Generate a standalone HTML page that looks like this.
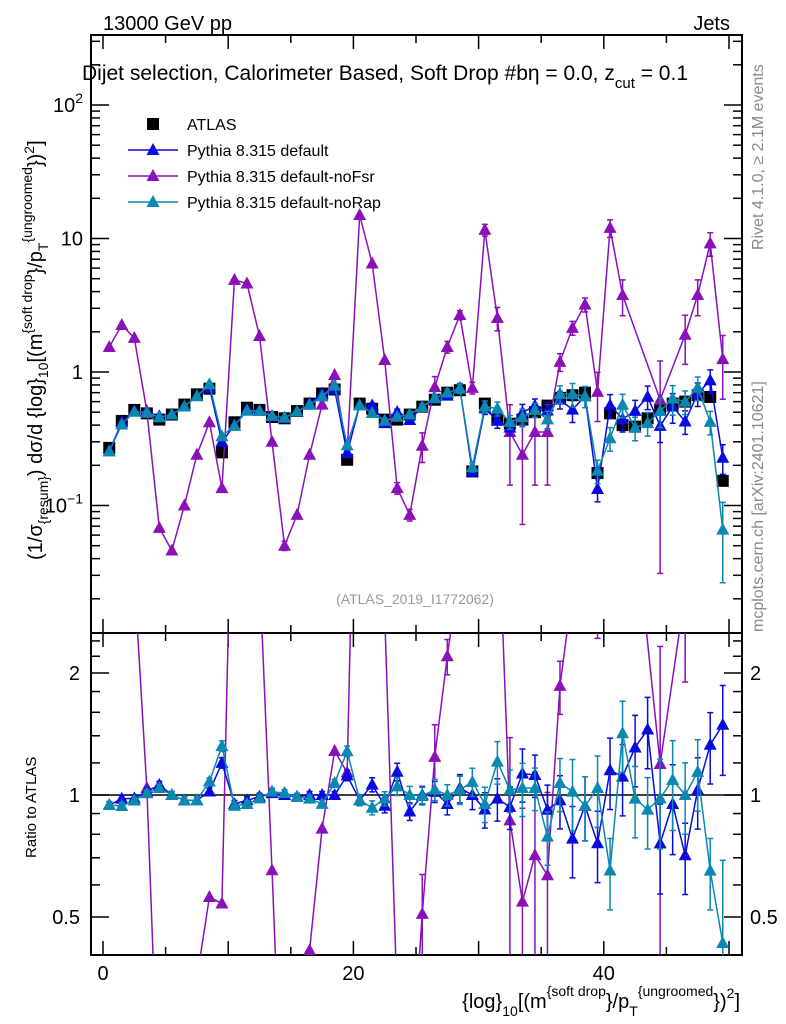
<!DOCTYPE html>
<html><head><meta charset="utf-8"><style>
html,body{margin:0;padding:0;background:#fff;width:786px;height:1024px;overflow:hidden;}
svg{display:block;font-family:"Liberation Sans",sans-serif;}
</style></head><body>
<svg id="chart" width="786" height="1024" viewBox="0 0 786 1024" xmlns="http://www.w3.org/2000/svg">
<defs>
<clipPath id="clipMain"><rect x="91" y="35" width="651" height="598"/></clipPath>
<clipPath id="clipRatio"><rect x="91" y="633" width="651" height="322"/></clipPath>
</defs>
<text x="103" y="30" font-size="20">13000 GeV pp</text>
<text x="730" y="30" font-size="20" text-anchor="end">Jets</text>
<text x="82" y="80" font-size="21">Dijet selection, Calorimeter Based, Soft Drop #bη = 0.0, z<tspan font-size="15" dy="8">cut</tspan><tspan dy="-8"> = 0.1</tspan></text>
<text transform="translate(763,250) rotate(-90)" font-size="16" fill="#888">Rivet 4.1.0, ≥ 2.1M events</text>
<text transform="translate(763,632) rotate(-90)" font-size="16" fill="#888">mcplots.cern.ch [arXiv:2401.10621]</text>
<text x="415" y="604" font-size="14" fill="#999" text-anchor="middle">(ATLAS_2019_I1772062)</text>
<text transform="translate(42,560) rotate(-90)" font-size="20">(1/σ<tspan font-size="14" dy="6">{resum}</tspan><tspan dy="-6">) dσ/d {log}</tspan><tspan font-size="14" dy="6">10</tspan><tspan dy="-6">[(m</tspan><tspan font-size="14" dy="-10">{soft drop</tspan><tspan dy="10">}/p</tspan><tspan font-size="14" dy="6">T</tspan><tspan font-size="14" dy="-16">{ungroomed</tspan><tspan dy="10">})</tspan><tspan font-size="14" dy="-8">2</tspan><tspan dy="8">]</tspan></text>
<text transform="translate(36,858) rotate(-90)" font-size="15">Ratio to ATLAS</text>
<text x="740" y="1008" font-size="20" text-anchor="end">{log}<tspan font-size="14" dy="8">10</tspan><tspan dy="-8">[(m</tspan><tspan font-size="14" dy="-12">{soft drop</tspan><tspan dy="12">}/p</tspan><tspan font-size="14" dy="8">T</tspan><tspan font-size="14" dy="-20">{ungroomed</tspan><tspan dy="12">})</tspan><tspan font-size="14" dy="-10">2</tspan><tspan dy="10">]</tspan></text>
<g id="axes"></g>
<g id="mainMarks" clip-path="url(#clipMain)"></g>
<g id="ratioMarks" clip-path="url(#clipRatio)"></g>
<g id="legend"></g>
</svg>
<script>
const dataVals = [0.27,0.43,0.52,0.49,0.44,0.48,0.57,0.68,0.75,0.25, 0.42,0.54,0.52,0.46,0.45,0.51,0.58,0.69,0.74,0.22, 0.58,0.53,0.44,0.44,0.48,0.55,0.62,0.70,0.73,0.18, 0.58,0.44,0.41,0.44,0.50,0.56,0.64,0.67,0.70,0.175, 0.49,0.40,0.39,0.45,0.52,0.58,0.60,0.67,0.65,0.153];
const defaultVals = [0.255,0.421,0.51,0.50,0.466,0.48,0.553,0.66,0.765,0.30, 0.399,0.524,0.515,0.465,0.45,0.505,0.58,0.69,0.74,0.246, 0.563,0.562,0.414,0.502,0.437,0.55,0.632,0.665,0.759,0.18, 0.534,0.431,0.383,0.497,0.56,0.515,0.621,0.523,0.658,0.133, 0.564,0.444,0.511,0.653,0.395,0.551,0.426,0.69,0.865,0.228];
const noRapVals = [0.255,0.404,0.504,0.495,0.458,0.48,0.553,0.66,0.81,0.33, 0.395,0.513,0.51,0.469,0.455,0.505,0.568,0.656,0.792,0.282, 0.563,0.493,0.431,0.462,0.48,0.547,0.639,0.70,0.752,0.194, 0.551,0.532,0.422,0.458,0.52,0.442,0.685,0.683,0.658,0.182, 0.319,0.568,0.382,0.414,0.51,0.632,0.60,0.764,0.423,0.066];
const noFsrVals = [1.54,2.25,1.8,0.51,0.068,0.046,0.10,0.24,0.42,0.135, 4.9,4.6,1.86,0.30,0.05,0.085,0.24,0.57,0.95,0.25, 15,6.5,1.23,0.135,0.085,0.28,0.77,1.54,2.67,0.76, 11.6,2.54,0.355,0.24,0.355,0.355,1.19,2.14,3.2,0.71, 12,3.77,null,null,0.62,null,1.9,3.77,9.2,1.25];
const defaultErr = [0.02,0.02,0.02,0.02,0.02,0.02,0.02,0.02,0.02,0.03, 0.02,0.02,0.02,0.02,0.02,0.02,0.02,0.02,0.02,0.03, 0.03,0.04,0.04,0.05,0.05, 0.05,0.06,0.06,0.08,0.08,0.1,0.12,0.12,0.15,0.12, 0.15,0.15,0.2,0.18,0.2,0.2,0.2,0.2,0.2,0.25, 0.25,0.2,0.2,0.2,0.25];
const noRapErr = [0.02,0.02,0.02,0.02,0.02,0.02,0.02,0.02,0.02,0.03, 0.02,0.02,0.02,0.02,0.02,0.02,0.02,0.02,0.02,0.03, 0.03,0.04,0.04,0.05,0.05, 0.05,0.06,0.06,0.08,0.08,0.1,0.12,0.12,0.15,0.12, 0.15,0.15,0.2,0.18,0.2,0.2,0.2,0.2,0.2,0.25, 0.25,0.2,0.2,0.2,0.6];
const noFsrErr = [0,0,0,0,0,0,0,0,0,0, 0,0,0,0,0.08,0,0,0,0,0, 0,0,0,0.1,0.1,0.25,0.2,0.1,0.08,0.1, 0.1,0.2,0.6,0.7,0.6,0.6,0.15,0.12,0.12,0.4, 0.15,0.3,0,0,0.95,0,0.4,0.3,0.2,0.5];
const xTickLabels = ["0","20","40"];
const xTickVals = [0,20,40];
const mainTickVals = [0.1,1,10,100];
const ratioTickVals = [0.5,1,2];
const ratioTickLabels = ["0.5","1","2"];

const NS="http://www.w3.org/2000/svg";
const xPix = v => 103 + v*12.52;
const yMain = v => 372 - 133.5*Math.log10(v);
const yRatio = r => 795 - 122*Math.log2(r);
function mk(tag, attrs, parent){const e=document.createElementNS(NS,tag);for(const k in attrs)e.setAttribute(k,attrs[k]);parent.appendChild(e);return e;}
const axes=document.getElementById('axes'), mainG=document.getElementById('mainMarks'), ratioG=document.getElementById('ratioMarks'), legG=document.getElementById('legend');

let f1=mk('rect',{x:91,y:35,width:651,height:598,fill:'none',stroke:'#000','stroke-width':2},axes);


let f2=mk('rect',{x:91,y:633,width:651,height:322,fill:'none',stroke:'#000','stroke-width':2},axes);



for(let v=0; v<=50; v+=5){
  const x=xPix(v), L=(v%10===0)?14:8;
  for(const [y0,d] of [[35,1],[633,-1],[633,1],[955,-1]]){
    let t=mk('line',{x1:x,x2:x,y1:y0,y2:y0+d*L,stroke:'#000','stroke-width':1.5},axes);
    
    
  }
}
xTickVals.forEach((v,i)=>{
  let t=mk('text',{x:xPix(v),y:980,'font-size':20,'text-anchor':'middle'},axes);t.textContent=xTickLabels[i];
  
  
});
for(let d=-2; d<=2; d++){
  for(let m=1;m<=9;m++){
    const v=m*Math.pow(10,d), y=yMain(v);
    if(y<35||y>633) continue;
    const L=m===1?18:9;
    for(const [x0,s] of [[91,1],[742,-1]]){
      let t=mk('line',{x1:x0,x2:x0+s*L,y1:y,y2:y,stroke:'#000','stroke-width':1.5},axes);
      
      
    }
  }
}
const mainLabels=[["10","−1"],["1",""],["10",""],["10","2"]];
mainTickVals.forEach((v,i)=>{
  let t=mk('text',{x:83,y:yMain(v)+7,'font-size':20,'text-anchor':'end'},axes);
  
  
  t.textContent=mainLabels[i][0];
  if(mainLabels[i][1]){const s=mk('tspan',{'font-size':14,dy:-9},t);s.textContent=mainLabels[i][1];}
});
for(const v of [0.4,0.5,0.6,0.7,0.8,0.9,1,1.2,1.4,1.6,1.8,2,2.2,2.4]){
  const y=yRatio(v); if(y<633||y>955) continue;
  const L=(v===0.5||v===1||v===2)?18:9;
  for(const [x0,s] of [[91,1],[742,-1]]){
    let t=mk('line',{x1:x0,x2:x0+s*L,y1:y,y2:y,stroke:'#000','stroke-width':1.5},axes);
    
    
  }
}
ratioTickVals.forEach((v,i)=>{
  for(const [x0,a] of [[80,'end'],[750,'start']]){
    let t=mk('text',{x:x0,y:yRatio(v)+7,'font-size':20,'text-anchor':a},axes);t.textContent=ratioTickLabels[i];
    
    
  }
});
let ref=mk('line',{x1:91,x2:742,y1:yRatio(1),y2:yRatio(1),stroke:'#000','stroke-width':1.5},axes);



function tri(g,x,y,c,name){
  let p=mk('polygon',{points:`${x},${y-7} ${x-6.5},${y+5} ${x+6.5},${y+5}`,fill:c},g);
  
  
}
function drawSeries(vals,errs,color,name){
  let pts=[], rpts=[];
  vals.forEach((v,i)=>{ if(v==null) return;
    const x=xPix(i+0.5);
    pts.push(`${x},${yMain(v)}`);
    rpts.push(`${x},${yRatio(v/dataVals[i])}`);
  });
  let l=mk('polyline',{points:pts.join(' '),fill:'none',stroke:color,'stroke-width':1.5},mainG);
  
  
  let rl=mk('polyline',{points:rpts.join(' '),fill:'none',stroke:color,'stroke-width':1.5},ratioG);
  
  
  vals.forEach((v,i)=>{ if(v==null) return;
    const x=xPix(i+0.5), e=errs[i];
    if(e>0){
      const lo=Math.max(v*(1-e),1e-3), hi=v*(1+e);
      for(const [g,fy,dv] of [[mainG,yMain,1],[ratioG,yRatio,dataVals[i]]]){
        const y1=fy(lo/dv), y2=fy(hi/dv);
        let b=mk('path',{d:`M${x},${y1}V${y2}M${x-3},${y1}h6M${x-3},${y2}h6`,stroke:color,'stroke-width':1.5,fill:'none'},g);
        
        
      }
    }
    tri(mainG,x,yMain(v),color,name+'-point');
    tri(ratioG,x,yRatio(v/dataVals[i]),color,name+'-ratio-point');
  });
}
dataVals.forEach((v,i)=>{
  const x=xPix(i+0.5),y=yMain(v);
  let r=mk('rect',{x:x-6,y:y-6,width:12,height:12,fill:'#000'},mainG);
  
  
});
drawSeries(noFsrVals,noFsrErr,'#8a10b8','nofsr');
drawSeries(defaultVals,defaultErr,'#0a0ae0','default');
drawSeries(noRapVals,noRapErr,'#0a88b0','norap');

const legItems=[['ATLAS','#000','sq'],['Pythia 8.315 default','#0a0ae0','tri'],['Pythia 8.315 default-noFsr','#8a10b8','tri'],['Pythia 8.315 default-noRap','#0a88b0','tri']];
legItems.forEach((it,i)=>{
  const y=124+i*26;
  if(it[2]==='sq'){
    let r=mk('rect',{x:147,y:y-6,width:12,height:12,fill:'#000'},legG);
    
    
  } else {
    let l=mk('line',{x1:128,x2:178,y1:y,y2:y,stroke:it[1],'stroke-width':1.5},legG);
    
    
    tri(legG,153,y,it[1],'legend-marker');
  }
  let t=mk('text',{x:187,y:y+6,'font-size':16},legG);t.textContent=it[0];
  
  
});
</script>
</body></html>
